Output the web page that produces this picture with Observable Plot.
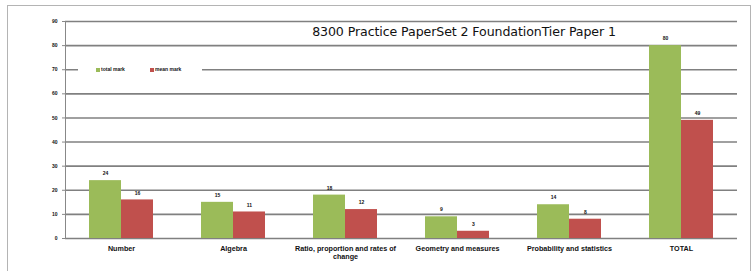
<!DOCTYPE html>
<html>
<head>
<meta charset="utf-8">
<script src="https://cdn.jsdelivr.net/npm/d3@7"></script>
<script src="https://cdn.jsdelivr.net/npm/@observablehq/plot@0.6"></script>
<style>
  html, body { margin: 0; padding: 0; background: #fff; overflow: hidden; }
  #wrap { position: relative; width: 756px; height: 271px; overflow: hidden; }
  #frame { position: absolute; left: 7px; top: 5px; width: 744px; height: 300px; border: 1px solid #b4b4b4; box-sizing: border-box; }
  #chart { position: absolute; left: 0; top: 0; }
  #title { position: absolute; left: 302px; top: 24px; width: 324px; height: 16px; background: #fff;
           font-family: "DejaVu Sans", sans-serif; font-size: 12.6px; color: #111; text-align: center; line-height: 16px; letter-spacing: -0.1px; }
  #legend { position: absolute; left: 78px; top: 63px; width: 124px; height: 12px; background: #fff;
            font-family: "Liberation Sans", Arial, sans-serif; font-size: 5px; font-weight: bold; color: #111; }
  .item { position: absolute; top: 3px; white-space: nowrap; line-height: 6px; }
  .sw { display: inline-block; width: 4px; height: 4px; margin-right: 1px; vertical-align: -0.5px; }
</style>
</head>
<body>
<div id="wrap">
  <div id="frame"></div>
  <div id="chart"></div>
  <div id="title"></div>
  <div id="legend"></div>
</div>
<script>
const categories = ["Number", "Algebra", "Ratio, proportion and rates of change", "Geometry and measures", "Probability and statistics", "TOTAL"];
const seriesNames = ["total mark", "mean mark"];
const totalMark = [24, 15, 18, 9, 14, 80];
const meanMark = [16, 11, 12, 3, 8, 49];
const yTicks = [0, 10, 20, 30, 40, 50, 60, 70, 80, 90];
const colors = ["#9BBB59", "#C0504D"];
const titleText = "8300 Practice PaperSet 2 FoundationTier Paper 1";

const data = [];
categories.forEach((c, i) => {
  data.push({category: c, series: seriesNames[0], value: totalMark[i]});
  data.push({category: c, series: seriesNames[1], value: meanMark[i]});
});

const wrapLabel = (d) => d === "Ratio, proportion and rates of change" ? "Ratio, proportion and rates of\nchange" : d;

const chart = Plot.plot({
  width: 756,
  height: 271,
  marginTop: 21,
  marginBottom: 33,
  marginLeft: 63,
  marginRight: 17,
  style: {fontFamily: "Liberation Sans, Arial, sans-serif", fontSize: "5px", background: "transparent", color: "#111"},
  fx: {domain: categories, padding: 0, label: null},
  x: {domain: seriesNames, paddingInner: 0, paddingOuter: 0.73, axis: null},
  y: {domain: [0, 90], label: null},
  color: {domain: seriesNames, range: colors},
  marks: [
    Plot.ruleY(yTicks, {stroke: "#808080", strokeWidth: 1.6}),
    Plot.barY(data, {fx: "category", x: "series", y: "value", fill: "series"}),
    Plot.text(data, {fx: "category", x: "series", y: "value", text: (d) => String(d.value), dy: -7, fontSize: 5, fontWeight: "bold", fill: "#111"}),
    Plot.axisY({ticks: yTicks, tickSize: 3, tickPadding: 5, fontWeight: "bold", fontSize: 5, stroke: "#888", label: null}),
    Plot.frame({anchor: "left", facet: "super", stroke: "#888"}),
    Plot.axisFx({anchor: "bottom", tickSize: 0, tickPadding: 6, tickFormat: wrapLabel, fontSize: 7.2, fontWeight: "bold", lineHeight: 1.2, label: null})
  ]
});
document.getElementById("chart").appendChild(chart);

document.getElementById("title").textContent = titleText;
const legend = document.getElementById("legend");
const legendX = [18, 72];
seriesNames.forEach((s, i) => {
  const it = document.createElement("div");
  it.className = "item";
  it.style.left = legendX[i] + "px";
  const sw = document.createElement("span");
  sw.className = "sw";
  sw.style.background = colors[i];
  it.appendChild(sw);
  it.appendChild(document.createTextNode(s));
  legend.appendChild(it);
});
</script>
</body>
</html>
